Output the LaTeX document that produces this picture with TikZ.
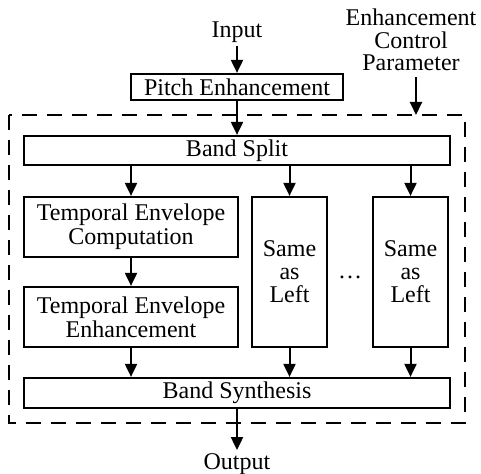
\documentclass[tikz,border=0pt]{standalone}
\usepackage{fontspec}
\setmainfont{Liberation Serif}
\usetikzlibrary{arrows.meta}
\begin{document}
\begin{tikzpicture}[x=0.5pt,y=-0.5pt,
  every node/.style={font=\fontsize{12}{12}\selectfont, inner sep=0pt},
  blk/.style={draw, line width=1.1pt, align=center},
  arr/.style={line width=1pt, -{Triangle[length=6.5pt,width=6pt]}},
  dashbox/.style={line width=1.2pt, dash pattern=on 7.5pt off 5pt}]
\useasboundingbox (0,0) rectangle (481,474);
% dashed frame
\draw[dashbox] (9,115) rectangle (465,423);
% nodes
\node[inner sep=1.5pt] (in) at (237,32) {Input};
\node[blk, minimum width=106pt, minimum height=13pt] (pe) at (237,87) {Pitch Enhancement};
\node[align=center, font=\fontsize{12}{11.2}\selectfont] (ecp) at (411,40) {Enhancement\\Control\\Parameter};
\coordinate (ecpend) at (416,115);
\node[blk, minimum width=213pt, minimum height=14.5pt] (bs) at (237,150.5) {Band Split};
\node[blk, minimum width=107pt, minimum height=30pt] (tec) at (131,227) {Temporal Envelope\\Computation};
\node[blk, minimum width=107pt, minimum height=30pt] (tee) at (131,317) {Temporal Envelope\\Enhancement};
\node[blk, minimum width=37.5pt, minimum height=75pt, font=\fontsize{12}{11.5}\selectfont] (s1) at (289.5,272) {Same\\as\\Left};
\node[blk, minimum width=37.5pt, minimum height=75pt, font=\fontsize{12}{11.5}\selectfont] (s2) at (410.5,272) {Same\\as\\Left};
\node (dots) at (350,277) {\dots};
\node[blk, minimum width=213pt, minimum height=15pt] (syn) at (237,393) {Band Synthesis};
\node[inner sep=1.5pt] (out) at (237,464) {Output};
% connectors
\draw[arr] (in) -- (pe);
\draw[arr] (ecp.south -| ecpend) ++(0,6) -- (ecpend);
\draw[arr] (pe) -- (bs);
\draw[arr] (bs.south -| tec.north) -- (tec);
\draw[arr] (bs.south -| s1.north) -- (s1);
\draw[arr] (bs.south -| s2.north) -- (s2);
\draw[arr] (tec) -- (tee);
\draw[arr] (tee) -- (syn.north -| tee.south);
\draw[arr] (s1) -- (syn.north -| s1.south);
\draw[arr] (s2) -- (syn.north -| s2.south);
\draw[arr] (syn) -- (out);
\end{tikzpicture}
\end{document}
